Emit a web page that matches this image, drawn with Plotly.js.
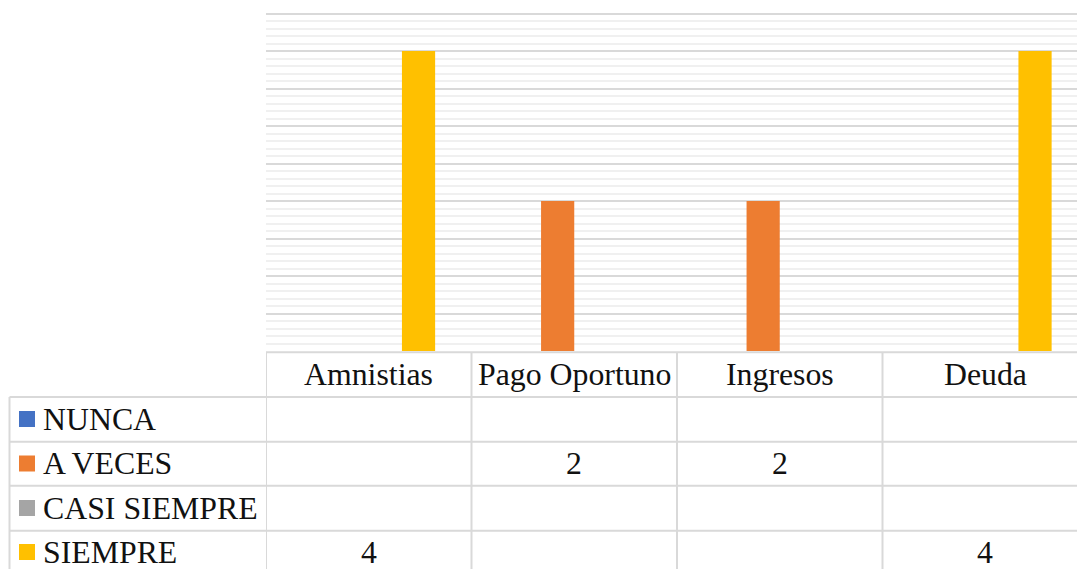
<!DOCTYPE html>
<html>
<head>
<meta charset="utf-8">
<script src="https://cdn.plot.ly/plotly-3.0.1.min.js"></script>
<style>
  #chart svg text { font-family: 'Liberation Serif', 'Times New Roman', serif !important; }
</style>
</head>
<body style="margin:0">
<div id="chart" style="width:1077px;height:569px"></div>
<script>
// Categories and the four response series (blank cells are null)
const categories = ['Amnistias', 'Pago Oportuno', 'Ingresos', 'Deuda'];
const seriesNames = ['NUNCA', 'A VECES', 'CASI SIEMPRE', 'SIEMPRE'];
const nunca = [null, null, null, null];
const aVeces = [null, 2, 2, null];
const casiSiempre = [null, null, null, null];
const siempre = [4, null, null, 4];
const seriesValues = [nunca, aVeces, casiSiempre, siempre];
const seriesColors = ['#4472C4', '#ED7D31', '#A5A5A5', '#FFC000'];

// Page geometry (pixels)
const W = 1077, H = 569;
const plotLeft = 266, plotBottom = 351, plotTop = 12;
const colWidth = 205.5;
const plotWidth = W - plotLeft;
const plotHeight = plotBottom - plotTop;
const yTop = 4.52;

const px2x = px => (px - plotLeft) / plotWidth;          // paper x
const px2y = py => (plotBottom - py) / plotHeight;       // paper y

const fontFamily = 'Liberation Serif';
const fontSize = 31.8;
const textColor = '#111111';
const lineColor = '#d9d9d9';

// Data-table geometry
const tableTop = 352.3;
const headerBottom = 397;
const rowLines = [441.7, 485.7, 530.7];
const rowCenters = [419, 463.5, 508, 552];
const headerCenter = 374.5;
const legendLeft = 9.5;

const traces = seriesNames.map((name, i) => ({
  type: 'bar',
  name: name,
  x: categories,
  y: seriesValues[i],
  marker: { color: seriesColors[i] }
}));

const shapes = [];
const annotations = [];

// Horizontal table rules
shapes.push({ type: 'line', xref: 'paper', yref: 'paper', x0: 0, x1: px2x(W + 5),
  y0: px2y(tableTop), y1: px2y(tableTop), line: { color: lineColor, width: 2 } });
[headerBottom, ...rowLines].forEach(py => {
  shapes.push({ type: 'line', xref: 'paper', yref: 'paper', x0: px2x(legendLeft), x1: px2x(W + 5),
    y0: px2y(py), y1: px2y(py), line: { color: lineColor, width: 2 } });
});

// Vertical table rules at the category boundaries
categories.forEach((c, j) => {
  shapes.push({ type: 'line', xref: 'x', yref: 'paper', x0: j - 0.5, x1: j - 0.5,
    y0: px2y(tableTop), y1: px2y(H + 5), line: { color: lineColor, width: 2 } });
});
// Left edge of the legend column
shapes.push({ type: 'line', xref: 'paper', yref: 'paper', x0: px2x(legendLeft), x1: px2x(legendLeft),
  y0: px2y(headerBottom), y1: px2y(H + 5), line: { color: lineColor, width: 2 } });

// Header labels
categories.forEach((c, j) => {
  annotations.push({ xref: 'x', yref: 'paper', x: j, y: px2y(headerCenter),
    text: c, showarrow: false, xanchor: 'center', yanchor: 'middle',
    font: { family: fontFamily, size: fontSize, color: textColor } });
});

// Legend keys, series names and table values
seriesNames.forEach((name, i) => {
  const cy = rowCenters[i];
  shapes.push({ type: 'rect', xref: 'paper', yref: 'paper',
    x0: px2x(19), x1: px2x(35), y0: px2y(cy - 8), y1: px2y(cy + 8),
    fillcolor: seriesColors[i], line: { width: 0 } });
  annotations.push({ xref: 'paper', yref: 'paper', x: px2x(41), y: px2y(cy),
    text: name, showarrow: false, xanchor: 'left', yanchor: 'middle',
    font: { family: fontFamily, size: fontSize, color: textColor } });
  seriesValues[i].forEach((v, j) => {
    if (v === null) return;
    annotations.push({ xref: 'x', yref: 'paper', x: j, y: px2y(cy),
      text: String(v), showarrow: false, xanchor: 'center', yanchor: 'middle',
      font: { family: fontFamily, size: fontSize, color: textColor } });
  });
});

const layout = {
  width: W,
  height: H,
  margin: { l: plotLeft, r: 0, t: plotTop, b: H - plotBottom },
  font: { family: fontFamily },
  barmode: 'group',
  bargap: 0.354,
  bargroupgap: 0,
  showlegend: false,
  xaxis: {
    range: [-0.5, -0.5 + plotWidth / colWidth],
    showticklabels: false,
    ticks: '',
    showgrid: false,
    zeroline: false,
    showline: false
  },
  yaxis: {
    range: [0, yTop],
    dtick: 0.5,
    showticklabels: false,
    ticks: '',
    showgrid: true,
    gridcolor: '#d9d9d9',
    gridwidth: 2,
    minor: { dtick: 0.1, showgrid: true, gridcolor: '#f0f0f0', gridwidth: 2, ticks: '' },
    zeroline: false,
    showline: false
  },
  shapes: shapes,
  annotations: annotations
};

Plotly.newPlot('chart', traces, layout, { displayModeBar: false }).then(gd => {
  // keep the table text in the serif face
  gd.querySelectorAll('text').forEach(t => t.style.setProperty('font-family', 'Liberation Serif', 'important'));
});
</script>
</body>
</html>
